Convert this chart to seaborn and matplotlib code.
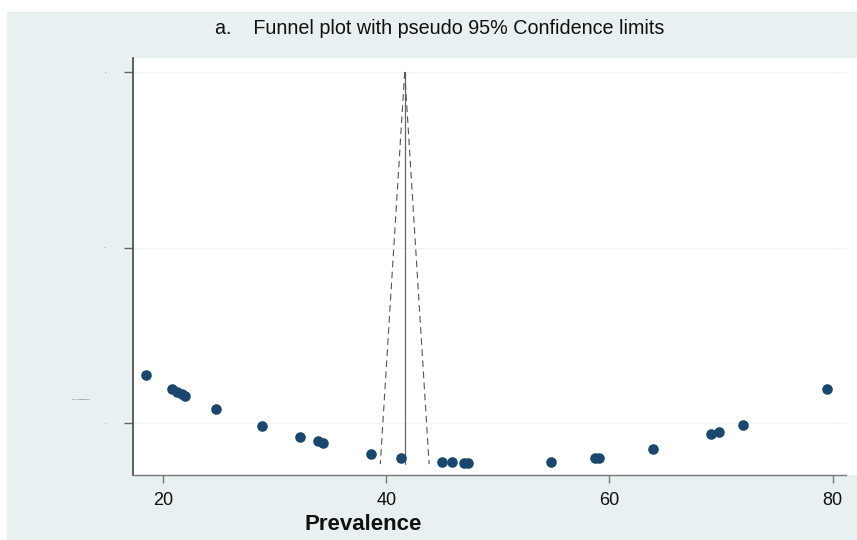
import matplotlib
matplotlib.use("Agg")
import matplotlib.pyplot as plt
import seaborn as sns
import pandas as pd
from matplotlib.patches import Rectangle

# ---- data ----
prevalence = [18.5, 20.8, 21.2, 21.7, 22.0, 24.7, 28.9, 32.3, 33.9, 34.3,
              38.6, 41.3, 45.0, 45.9, 47.0, 47.3, 54.8, 58.7, 59.1, 63.9,
              69.1, 69.8, 72.0, 79.5]
std_err = [0.861, 0.902, 0.910, 0.916, 0.923, 0.958, 1.008, 1.040, 1.051, 1.057,
           1.086, 1.098, 1.110, 1.110, 1.113, 1.113, 1.110, 1.099, 1.098, 1.072,
           1.030, 1.024, 1.004, 0.901]
pooled = 41.65
z95 = 1.96
se_max = 1.116
x_ticks = [20, 40, 60, 80]
y_ticks = [0, 0.5, 1]
y_tick_labels = ["0", ".5", "1"]
title = "a.    Funnel plot with pseudo 95% Confidence limits"
x_label = "Prevalence"
y_label = "s.e. of prevalence"

df = pd.DataFrame({"prev": prevalence, "se": std_err})

sns.set_theme(style="white")
plt.rcParams["font.family"] = ["Liberation Sans", "DejaVu Sans"]

BG = "#E8F0F2"
fig = plt.figure(figsize=(8.57, 5.40), dpi=100, facecolor="white")
W, H = 857, 540
# grey background band (image has a thin white margin top/left)
fig.patches.append(Rectangle((7 / W, 0), 1 - 7 / W, 1 - 12 / H,
                             transform=fig.transFigure, facecolor=BG,
                             edgecolor="none", zorder=-10))
# white area to the right of the plot region
fig.patches.append(Rectangle((846 / W, 1 - 475 / H), 1, (475 - 58) / H,
                             transform=fig.transFigure, facecolor="white",
                             edgecolor="none", zorder=-9))

ax = fig.add_axes([133 / W, 1 - 475 / H, (846 - 133) / W, (475 - 58) / H])
ax.set_zorder(1)
ax.set_facecolor("white")

# funnel lines
ax.plot([pooled, pooled], [0, se_max], color="#666666", lw=0.9, zorder=2)
ax.plot([pooled, pooled - z95 * se_max], [0, se_max], color="#555555",
        lw=0.8, ls=(0, (6, 4)), zorder=2)
ax.plot([pooled, pooled + z95 * se_max], [0, se_max], color="#555555",
        lw=0.8, ls=(0, (6, 4)), zorder=2)

sns.scatterplot(data=df, x="prev", y="se", ax=ax, color="#1a476f", s=58,
                edgecolor="#1a476f", linewidth=0, zorder=3, legend=False)

ax.set_xlim(17.3, 81.2)
ax.set_ylim(1.147, -0.04)
ax.set_xticks(x_ticks)
ax.set_yticks(y_ticks)
ax.set_yticklabels(y_tick_labels)
ax.set_xlabel("")
ax.set_ylabel("")

for y in y_ticks:
    ax.axhline(y, color="#EEF4F5", lw=1.0, zorder=1)

for s in ["top", "right"]:
    ax.spines[s].set_visible(False)
ax.spines["left"].set_color("#444444")
ax.spines["left"].set_linewidth(1.2)
ax.spines["bottom"].set_color("#777777")
ax.spines["bottom"].set_linewidth(1.0)

ax.tick_params(axis="x", direction="out", length=6, width=1, color="#777777",
               labelsize=13, pad=6, labelcolor="#111111", bottom=True)
ax.tick_params(axis="y", direction="out", length=6.5, width=1, color="#666666",
               labelsize=1.5, pad=13, labelcolor="#444444", left=True)

fig.text(440 / W, 1 - 28 / H, title, ha="center", va="center",
         fontsize=14.2, color="#111111")
fig.text(363 / W, 1 - 525 / H, x_label, ha="center", va="center",
         fontsize=16, fontweight="bold", color="#111111")
fig.text(81 / W, 1 - 400 / H, y_label, ha="center", va="center",
         fontsize=1.6, color="#333333")

fig.savefig("out.png", dpi=100, facecolor=fig.get_facecolor())
